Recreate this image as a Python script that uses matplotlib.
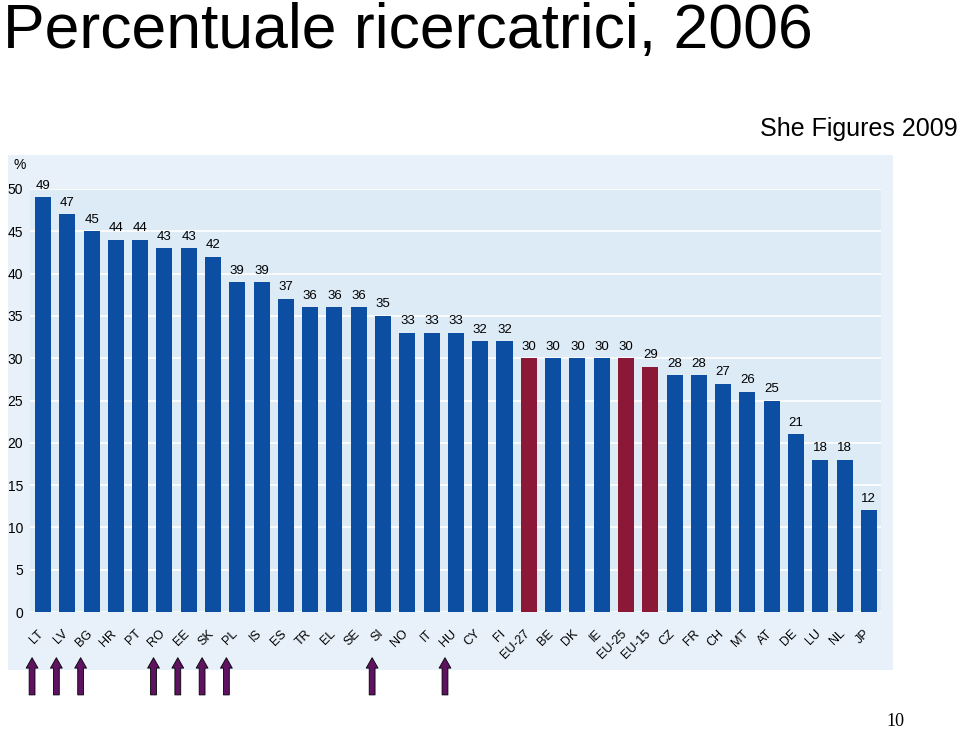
#ricercatrici.py
#bar chart: percentuale ricercatrici 2006 (She Figures 2009)

import matplotlib.pyplot as plt
from matplotlib.patches import Rectangle

#data
countries = ["LT", "LV", "BG", "HR", "PT", "RO", "EE", "SK", "PL", "IS", "ES", "TR", "EL", "SE", "SI",
             "NO", "IT", "HU", "CY", "FI", "EU-27", "BE", "DK", "IE", "EU-25", "EU-15", "CZ", "FR",
             "CH", "MT", "AT", "DE", "LU", "NL", "JP"]
values = [49, 47, 45, 44, 44, 43, 43, 42, 39, 39, 37, 36, 36, 36, 35,
          33, 33, 33, 32, 32, 30, 30, 30, 30, 30, 29, 28, 28,
          27, 26, 25, 21, 18, 18, 12]
eu_groups = ["EU-27", "EU-25", "EU-15"]
flagged = ["LT", "LV", "BG", "RO", "EE", "SK", "PL", "SI", "HU"]
yticks = [0, 5, 10, 15, 20, 25, 30, 35, 40, 45, 50]

blue = "#0b4ea2"
red = "#8c1838"
purple = "#5e1260"

plt.rcParams['font.family'] = ['Liberation Sans', 'DejaVu Sans']

fig = plt.figure(figsize=(9.6, 7.3), dpi=100)

#outer panel
fig.patches.append(Rectangle((8/960, 1-670/730), (893-8)/960, (670-155)/730,
                             transform=fig.transFigure, facecolor="#e8f1f9",
                             edgecolor="none", zorder=-1))

ax = fig.add_axes([30/960, 1-612/730, (881-30)/960, 423/730])
ax.set_zorder(1)
ax.set_facecolor("#dcebf6")

x = list(range(len(countries)))
colors = [red if c in eu_groups else blue for c in countries]
bars = ax.bar(x, values, width=0.66, color=colors, zorder=3)

for xi, v in zip(x, values):
    ax.annotate(str(v), (xi, v), xytext=(0, 4), textcoords="offset points",
                ha="center", va="bottom", fontsize=9.5, zorder=4)

ax.set_xlim(-0.535, len(countries) - 0.5)
ax.set_ylim(0, 50)
ax.set_yticks(yticks)
ax.tick_params(axis="y", length=0, pad=5, labelsize=10)
ax.set_xticks([])
ax.grid(axis="y", color="white", linewidth=1.2, zorder=1)
ax.set_axisbelow(True)
for s in ax.spines.values():
    s.set_visible(False)

#rotated country labels
for xi, c in zip(x, countries):
    ax.text(xi - 0.05, -0.047, c, transform=ax.get_xaxis_transform(),
            rotation=45, rotation_mode="anchor", ha="right", va="center",
            fontsize=9)

#arrows under selected countries
for c in flagged:
    i = countries.index(c)
    ax.annotate("", xy=(i - 0.45, -0.108), xytext=(i - 0.45, -0.196),
                xycoords=("data", "axes fraction"),
                textcoords=("data", "axes fraction"),
                arrowprops=dict(arrowstyle="simple,head_length=0.75,head_width=0.85,tail_width=0.42",
                                mutation_scale=10, facecolor=purple, edgecolor="black",
                                linewidth=0.6, shrinkA=0, shrinkB=0),
                annotation_clip=False)

ax.text(-0.012, 1.04, "%", transform=ax.transAxes, ha="center", va="bottom", fontsize=10)

fig.text(0.003, 0.997, "Percentuale ricercatrici, 2006", ha="left", va="top", fontsize=45)
fig.text(0.998, 0.823, "She Figures 2009", ha="right", va="center", fontsize=18)
fig.text(0.933, 0.011, "10", ha="center", va="center", fontsize=13, family="Liberation Serif")

plt.savefig("out.png", dpi=100)
